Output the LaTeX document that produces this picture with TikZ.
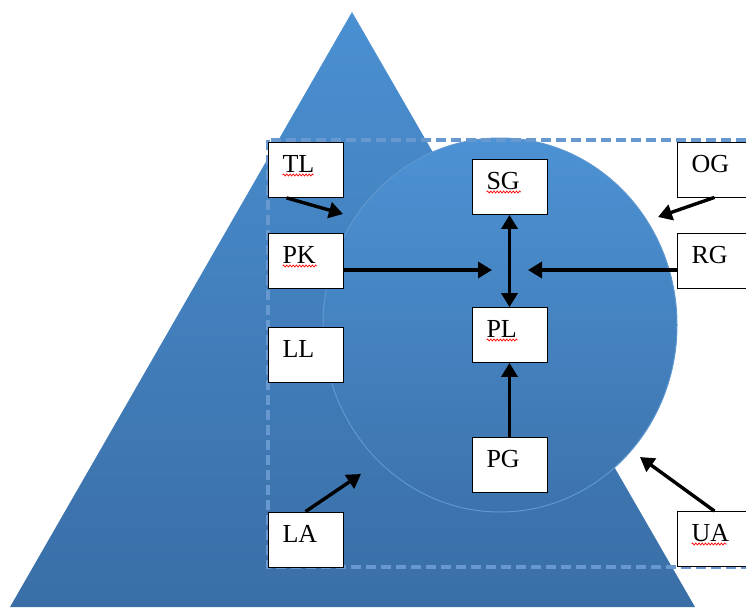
\documentclass[tikz,border=0pt]{standalone}
\usepackage{fontspec}
\setmainfont{Liberation Serif}
\usetikzlibrary{arrows.meta,decorations.pathmorphing,calc}
\definecolor{triTop}{HTML}{4A90D2}
\definecolor{triBot}{HTML}{3A6EA6}
\definecolor{cirTop}{HTML}{4C92D4}
\definecolor{cirBot}{HTML}{3D73AC}
\definecolor{cirEdge}{HTML}{5F98D0}
\definecolor{dashBlue}{HTML}{6898D0}
\tikzset{
  lbox/.style={draw=black, line width=0.8pt, fill=white, minimum width=75pt, minimum height=55pt,
    text width=46pt, align=left, inner xsep=14.5pt, inner ysep=0pt, text height=18pt, text depth=12.5pt,
    font=\fontsize{26}{29}\selectfont},
  arr/.style={line width=3.4pt, -{Triangle[length=14pt,width=16pt]}},
  darr/.style={line width=3.4pt, {Triangle[length=14pt,width=16pt]}-{Triangle[length=14pt,width=16pt]}},
  spell/.style={draw=red, line width=0.7pt, decorate, decoration={snake, amplitude=1pt, segment length=3.2pt}}
}
\begin{document}
\begin{tikzpicture}[x=1pt,y=-1pt]
\useasboundingbox (0,0) rectangle (746,613);
\clip (0,0) rectangle (746,613);
% triangle
\path[top color=triTop, bottom color=triBot] (352,12) -- (695,607) -- (10,607) -- cycle;
% circle
\path[draw=cirEdge, line width=1pt, top color=cirTop, bottom color=cirBot] (500,325) ellipse [x radius=177, y radius=187];
% dashed frame
\draw[dashBlue, line width=3.5pt, dash pattern=on 10pt off 5pt] (268,140) rectangle (770,567);
% boxes
\node[lbox] (TL) at (305.5,170) {TL};
\node[lbox] (PK) at (305.5,261) {PK};
\node[lbox] (LL) at (305.5,354.5) {LL};
\node[lbox] (LA) at (305.5,539.5) {LA};
\node[lbox] (SG) at (509.5,187) {SG};
\node[lbox] (PL) at (509.5,335) {PL};
\node[lbox] (PG) at (509.5,465) {PG};
\node[lbox] (OG) at (714.5,169.5) {OG};
\node[lbox] (RG) at (714.5,261) {RG};
\node[lbox] (UA) at (714.5,539) {UA};
% spelling underlines
\draw[spell] ($(TL.west)+(15,5)$) -- ++(31,0);
\draw[spell] ($(PK.west)+(15,5)$) -- ++(34,0);
\draw[spell] ($(SG.west)+(15,5)$) -- ++(34,0);
\draw[spell] ($(PL.west)+(15,5)$) -- ++(31,0);
\draw[spell] ($(UA.west)+(15,5)$) -- ++(35,0);
% free ends
\coordinate (tlEnd) at (343,214);
\coordinate (hubL) at (492,270);
\coordinate (hubR) at (528,270);
\coordinate (ogEnd) at (658,217);
\coordinate (laEnd) at (361,474);
\coordinate (uaEnd) at (640,457);
% arrows
\draw[arr] ([xshift=19pt]TL.south west) -- (tlEnd);
\draw[arr] (PK.east |- hubL) -- (hubL);
\draw[arr] (RG.west |- hubR) -- (hubR);
\draw[darr] (SG.south) -- (PL.north);
\draw[arr] (PG.north) -- (PL.south);
\draw[arr] (OG.south) -- (ogEnd);
\draw[arr] (LA.north) -- (laEnd);
\draw[arr] (UA.north) -- (uaEnd);
\end{tikzpicture}
\end{document}
